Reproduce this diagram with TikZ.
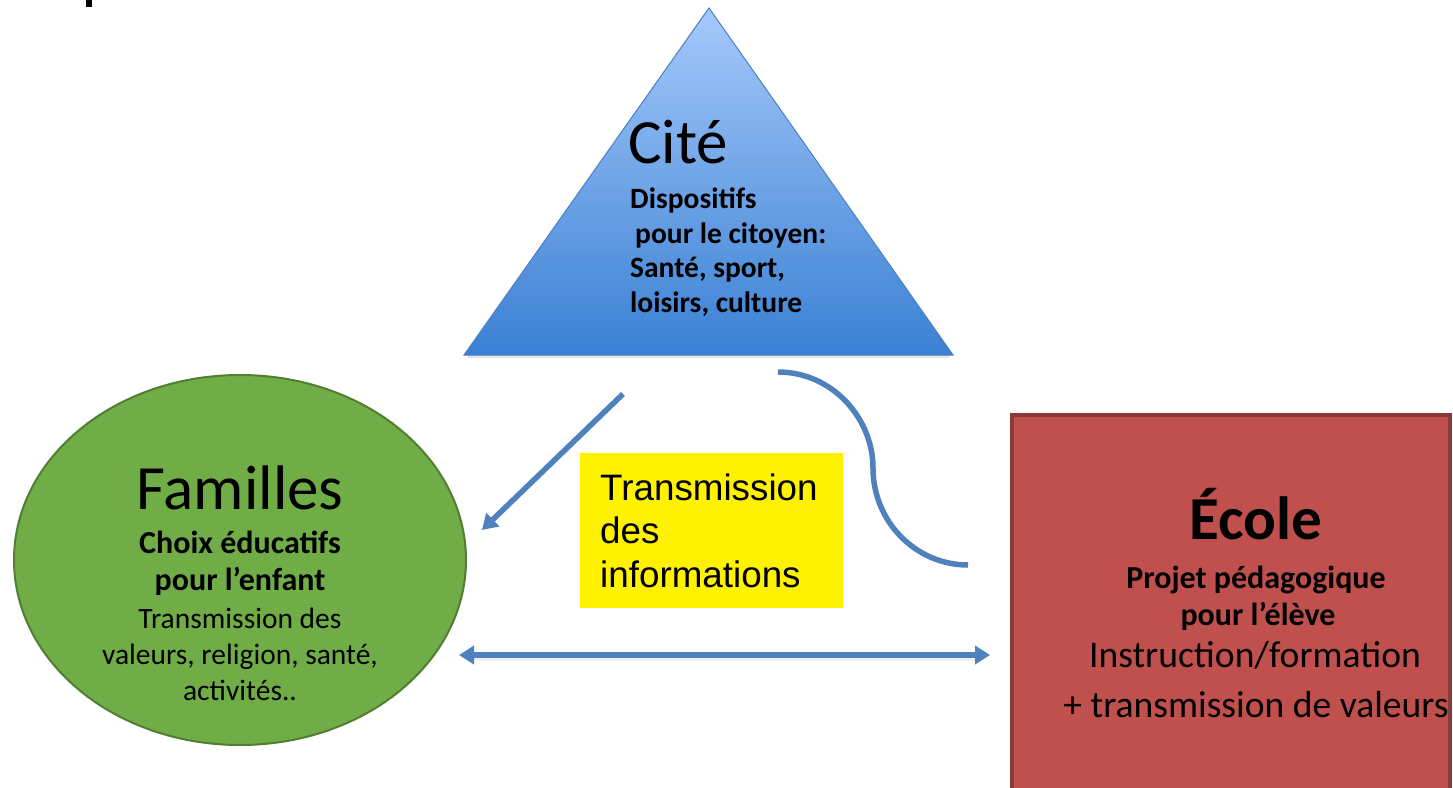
\documentclass[tikz,border=0pt]{standalone}
\usepackage{fontspec}
\setmainfont{Carlito}
\newfontfamily\arialf{Liberation Sans}
\usetikzlibrary{arrows.meta,shapes.geometric}
\definecolor{arrowblue}{HTML}{4F81BD}
\definecolor{tritop}{HTML}{A6C9FB}
\definecolor{tribot}{HTML}{3A80D3}
\definecolor{triedge}{HTML}{4A7FC0}
\definecolor{famgreen}{HTML}{70AD47}
\definecolor{famedge}{HTML}{507E32}
\definecolor{ecolered}{HTML}{C0504D}
\definecolor{ecoleedge}{HTML}{8C3A38}
\tikzset{
  txt/.style={inner sep=0pt, anchor=base},
  txtw/.style={inner sep=0pt, anchor=base west},
  conn/.style={draw=arrowblue, line width=5.5pt},
  tip/.style={-{Triangle[length=15pt,width=18pt]}},
  bitip/.style={{Triangle[length=15pt,width=18pt]}-{Triangle[length=15pt,width=18pt]}},
}
\begin{document}
\begin{tikzpicture}[x=1pt,y=-1pt]
\useasboundingbox (0,0) rectangle (1453,787);
\fill[white] (0,0) rectangle (1453,787);
% fragment top-left
\fill[black] (86,0) rectangle (92,7);

% Cite triangle
\coordinate (apex) at (709,8);
\coordinate (bl) at (464,355);
\coordinate (br) at (953,355);
\fill[black!20, opacity=0.5] (468,355) rectangle (949,358);
\shade[top color=tritop, bottom color=tribot] (apex) -- (br) -- (bl) -- cycle;
\draw[triedge, line width=1pt] (apex) -- (br) -- (bl) -- cycle;
\node[txtw, font=\fontsize{63}{63}\selectfont] (cite) at (628,163) {Cité};
\begin{scope}[font=\bfseries\fontsize{29.5}{29.5}\selectfont]
\node[txtw] (c1) at (630,208) {Dispositifs};
\node[txtw] (c2) at (635,243) {pour le citoyen:};
\node[txtw] (c3) at (630,277) {Santé, sport,};
\node[txtw] (c4) at (630,312) {loisirs, culture};
\end{scope}

% Familles ellipse
\node[ellipse, draw=famedge, line width=2pt, fill=famgreen, minimum width=452pt, minimum height=370pt, inner sep=0pt] (fam) at (240,560) {};
\node[txt, font=\fontsize{63}{63}\selectfont] (famt) at (240,509) {Familles};
\begin{scope}[font=\bfseries\fontsize{32}{32}\selectfont]
\node[txt] (f1) at (240,553) {Choix éducatifs};
\node[txt] (f2) at (240,590) {pour l’enfant};
\end{scope}
\begin{scope}[font=\fontsize{29.5}{29.5}\selectfont]
\node[txt] (f3) at (240,628) {Transmission des};
\node[txt] (f4) at (240,664) {valeurs, religion, santé,};
\node[txt] (f5) at (240,700) {activités..};
\end{scope}

% Yellow box
\node[fill=yellow, minimum width=263pt, minimum height=155pt, inner sep=0pt] (info) at (711.5,530.5) {};
\begin{scope}[font=\arialf\fontsize{36.8}{36.8}\selectfont]
\node[txtw] (i1) at (600,500) {Transmission};
\node[txtw] (i2) at (600,543) {des};
\node[txtw] (i3) at (600,587) {informations};
\end{scope}

% Ecole box
\draw[draw=ecoleedge, line width=4.5pt, fill=ecolered] (1012,415) rectangle (1450,800);
\node[txt, font=\bfseries\fontsize{61}{61}\selectfont] (et) at (1256,539) {École};
\begin{scope}[font=\bfseries\fontsize{32}{32}\selectfont]
\node[txt] (e1) at (1256,588) {Projet pédagogique};
\node[txt] (e2) at (1258,625) {pour l’élève};
\end{scope}
\begin{scope}[font=\fontsize{37.6}{37.6}\selectfont]
\node[txt] (e3) at (1255,667) {Instruction/formation};
\node[txt] (e4) at (1256,717) {+ transmission de valeurs};
\end{scope}

% connectors
\coordinate (a1s) at (623,394);
\coordinate (a1e) at (482,530);
\draw[conn, tip] (a1s) -- (a1e);

\coordinate (cs) at (778,372);
\coordinate (cm) at (873,468);
\coordinate (ce) at (968,565);
\draw[conn] (cs) .. controls (832,372) and (873,418) .. (cm) .. controls (873,522) and (916,565) .. (ce);

\coordinate (d1) at (459,655);
\coordinate (d2) at (990,655);
\fill[black!15, opacity=0.4] (472,658) rectangle (978,661);
\draw[conn, bitip] (d1) -- (d2);
\end{tikzpicture}
\end{document}
